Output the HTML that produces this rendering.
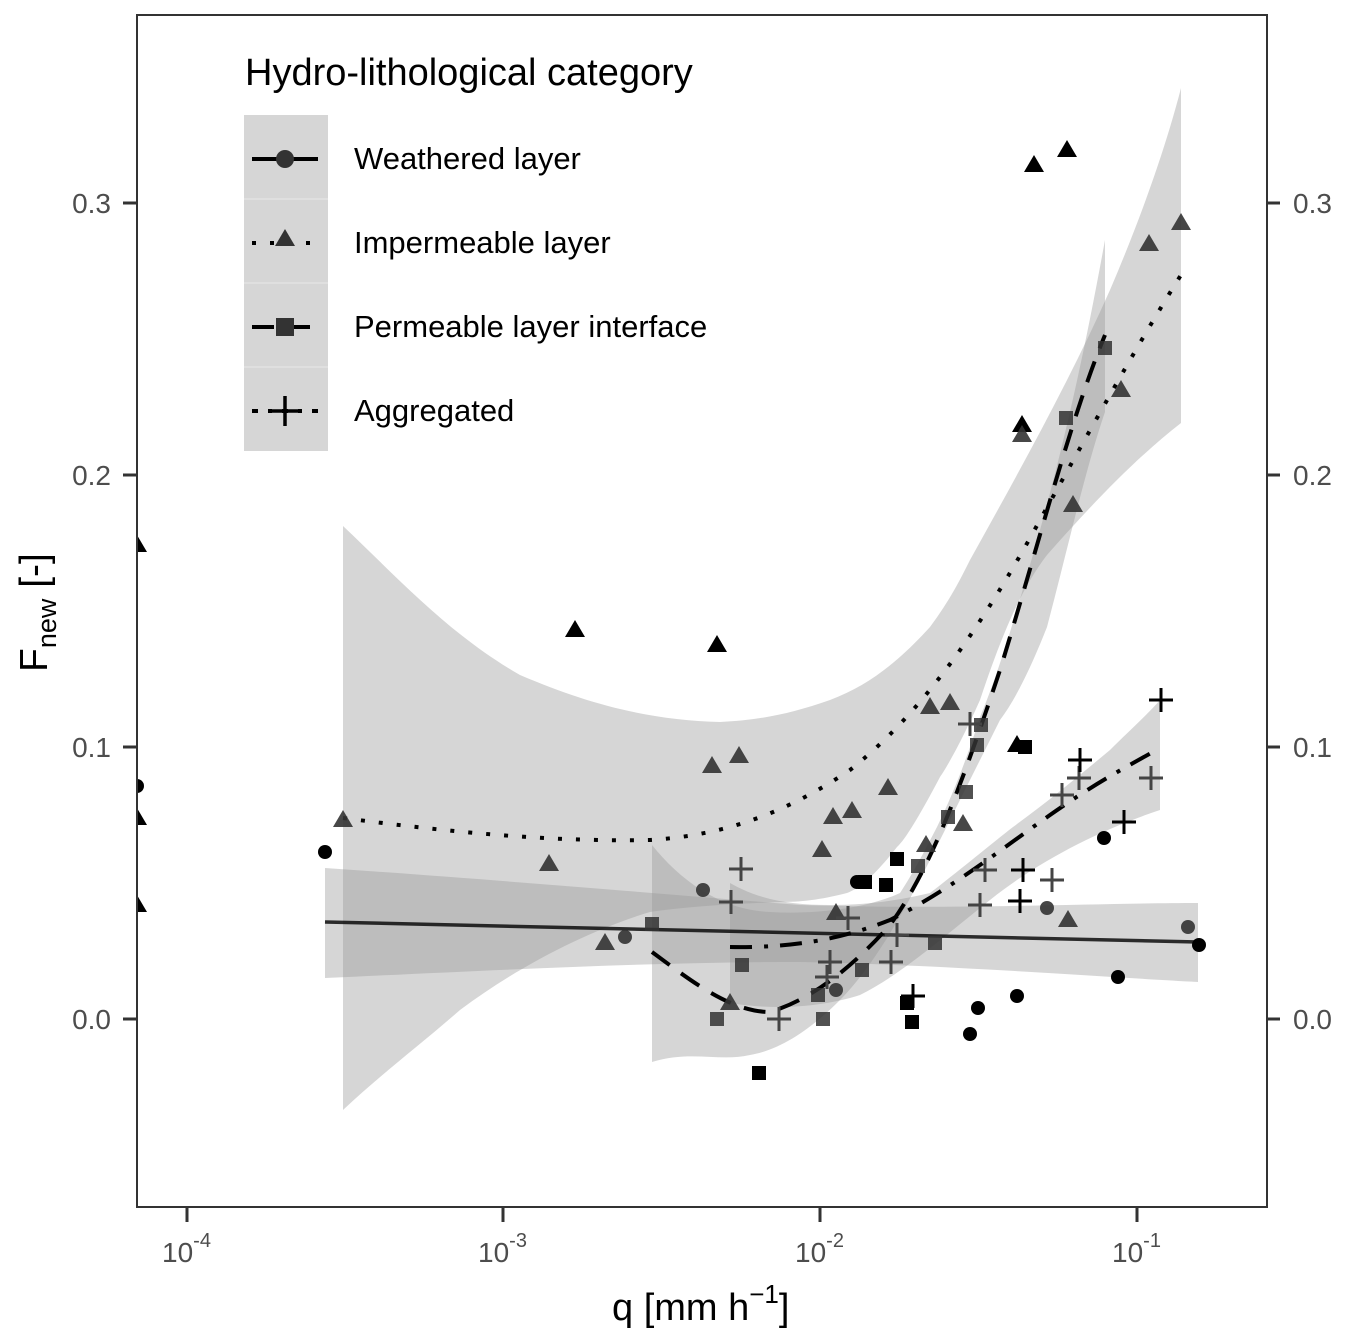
<!DOCTYPE html>
<html><head><meta charset="utf-8"><style>
body{margin:0;background:#fff}
svg{display:block}
text{font-family:"Liberation Sans",Arial,sans-serif}
</style></head><body>
<svg width="1348" height="1342" viewBox="0 0 1348 1342" xmlns="http://www.w3.org/2000/svg">
<rect width="1348" height="1342" fill="#fff"/>
<defs>
<clipPath id="pc"><rect x="137" y="15" width="1130" height="1192"/></clipPath>
</defs>
<g clip-path="url(#pc)">
<g fill="#999" fill-opacity="0.4">
<!-- impermeable ribbon -->
<path d="M343,526 C400,580 450,635 520,675 C590,705 650,720 720,722 C760,720 790,714 830,700 C870,685 900,660 930,627 C950,600 960,580 970,560 C1020,470 1070,380 1110,290 C1140,220 1165,150 1181,88 L1181,423 C1140,455 1100,495 1047,555 C1020,590 1000,640 980,700 C960,745 945,770 940,777 C920,815 905,840 897,847 C875,875 860,888 847,893 C820,900 800,902 780,902 C740,904 700,905 650,912 C590,930 520,965 460,1010 C420,1045 380,1075 343,1110 Z"/>
<!-- weathered ribbon -->
<path d="M325,868 C500,880 650,893 800,905 C950,910 1100,903 1198,903 L1198,982 C1100,977 950,965 800,962 C650,962 500,970 325,978 Z"/>
<!-- permeable ribbon -->
<path d="M652,845 C680,880 720,910 770,912 C820,915 870,907 900,893 C915,870 925,850 937,827 C955,790 968,755 980,717 C1000,670 1020,600 1040,530 C1065,440 1085,350 1105,240 L1105,412 C1085,470 1065,560 1047,627 C1030,670 1015,700 1000,720 C975,770 955,810 930,860 C900,920 870,970 840,1000 C810,1030 780,1050 750,1055 C720,1062 690,1050 652,1062 Z"/>
<!-- aggregated ribbon -->
<path d="M730,883 C760,900 790,905 830,905 C870,905 900,900 930,893 C960,870 990,845 1013,827 C1050,800 1080,775 1110,750 C1130,730 1150,712 1160,700 L1160,810 C1100,830 1040,860 990,900 C940,940 900,975 860,995 C820,1008 770,1010 730,1003 Z"/>
</g>
<!-- lines -->
<path d="M325,922 L1198,942" stroke="#000" stroke-width="3.5" fill="none" opacity="0.8"/>
<path d="M343,818 C450,832 550,842 650,840 C730,835 790,810 850,770 C920,715 980,630 1040,520 C1090,430 1140,340 1181,275" stroke="#000" stroke-width="4" fill="none" stroke-dasharray="4,14"/>
<path d="M652,952 C690,980 730,1012 770,1012 C810,1000 850,970 890,925 C930,870 960,790 1000,670 C1040,540 1070,420 1105,335" stroke="#000" stroke-width="4" fill="none" stroke-dasharray="22,14"/>
<path d="M730,947 C790,948 840,940 890,920 C950,890 1000,850 1050,815 C1100,780 1130,765 1160,748" stroke="#000" stroke-width="4" fill="none" stroke-dasharray="22,12,4,12"/>
<!-- points: triangles -->
<g fill="#000">
<path d="M137,535 l10,17 h-20z M137,808 l10,17 h-20z M137,895 l10,17 h-20z M575,620 l10,17 h-20z M717,635 l10,17 h-20z M1034,155 l10,17 h-20z M1067,140 l10,17 h-20z M1022,415 l10,17 h-20z M1017,735 l10,17 h-20z"/>
</g>
<g fill="#333" fill-opacity="0.9">
<path d="M343,810 l10,17 h-20z M549,854 l10,17 h-20z M605,933 l10,17 h-20z M712,756 l10,17 h-20z M739,746 l10,17 h-20z M822,840 l10,17 h-20z M833,807 l10,17 h-20z M852,801 l10,17 h-20z M888,778 l10,17 h-20z M930,697 l10,17 h-20z M950,693 l10,17 h-20z M926,835 l10,17 h-20z M963,814 l10,17 h-20z M1149,234 l10,17 h-20z M1181,213 l10,17 h-20z M1121,380 l10,17 h-20z M1068,910 l10,17 h-20z M730,993 l10,17 h-20z M836,903 l10,17 h-20z M1073,495 l10,17 h-20z M1022,425 l10,17 h-20z"/>
</g>
<!-- circles -->
<g fill="#000">
<circle cx="137" cy="786" r="7"/><circle cx="325" cy="852" r="7"/><circle cx="857" cy="882" r="7"/><circle cx="865" cy="882" r="7"/><circle cx="978" cy="1008" r="7"/><circle cx="970" cy="1034" r="7"/><circle cx="1017" cy="996" r="7"/><circle cx="1104" cy="838" r="7"/><circle cx="1118" cy="977" r="7"/><circle cx="1199" cy="945" r="7"/>
</g>
<g fill="#333" fill-opacity="0.9">
<circle cx="625" cy="937" r="7"/><circle cx="703" cy="890" r="7"/><circle cx="836" cy="990" r="7"/><circle cx="1047" cy="908" r="7"/><circle cx="1188" cy="927" r="7"/>
</g>
<!-- squares -->
<g fill="#000">
<rect x="890" y="852" width="14" height="14"/><rect x="1018" y="740" width="14" height="14"/><rect x="900" y="996" width="14" height="14"/><rect x="905" y="1015" width="14" height="14"/><rect x="752" y="1066" width="14" height="14"/><rect x="879" y="878" width="14" height="14"/><rect x="858" y="875" width="14" height="14"/>
</g>
<g fill="#333" fill-opacity="0.85">
<rect x="645" y="917" width="14" height="14"/><rect x="710" y="1012" width="14" height="14"/><rect x="735" y="958" width="14" height="14"/><rect x="811" y="988" width="14" height="14"/><rect x="816" y="1012" width="14" height="14"/><rect x="855" y="963" width="14" height="14"/><rect x="911" y="859" width="14" height="14"/><rect x="928" y="936" width="14" height="14"/><rect x="941" y="810" width="14" height="14"/><rect x="959" y="785" width="14" height="14"/><rect x="970" y="738" width="14" height="14"/><rect x="974" y="718" width="14" height="14"/><rect x="1059" y="411" width="14" height="14"/><rect x="1098" y="341" width="14" height="14"/>
</g>
<!-- pluses -->
<g stroke="#444" stroke-width="3" fill="none">
<path d="M741,857v24M729,869h24 M731,890v24M719,902h24 M830,950v24M818,962h24 M827,965v24M815,977h24 M848,906v24M836,918h24 M897,923v24M885,935h24 M891,950v24M879,962h24 M980,893v24M968,905h24 M985,858v24M973,870h24 M1062,783v24M1050,795h24 M1079,766v24M1067,778h24 M1151,766v24M1139,778h24 M1052,868v24M1040,880h24 M779,1007v24M767,1019h24 M970,712v24M958,724h24"/>
</g>
<g stroke="#000" stroke-width="3" fill="none">
<path d="M913,984v24M901,996h24 M1020,889v24M1008,901h24 M1080,748v24M1068,760h24 M1124,810v24M1112,822h24 M1161,688v24M1149,700h24 M1023,858v24M1011,870h24"/>
</g>
</g>
<!-- panel border -->
<rect x="137" y="15" width="1130" height="1192" fill="none" stroke="#333" stroke-width="2"/>
<!-- ticks -->
<g stroke="#333" stroke-width="3">
<path d="M123,203h14M123,475h14M123,747h14M123,1019h14"/>
<path d="M1268,203h12M1268,475h12M1268,747h12M1268,1019h12"/>
<path d="M187,1208v14M503,1208v14M820,1208v14M1137,1208v14"/>
</g>
<g fill="#4d4d4d" font-size="28">
<text x="111" y="213" text-anchor="end">0.3</text>
<text x="111" y="485" text-anchor="end">0.2</text>
<text x="111" y="757" text-anchor="end">0.1</text>
<text x="111" y="1029" text-anchor="end">0.0</text>
<text x="1293" y="213">0.3</text>
<text x="1293" y="485">0.2</text>
<text x="1293" y="757">0.1</text>
<text x="1293" y="1029">0.0</text>
<text x="162" y="1262">10<tspan dy="-15" font-size="20">-4</tspan></text>
<text x="478" y="1262">10<tspan dy="-15" font-size="20">-3</tspan></text>
<text x="795" y="1262">10<tspan dy="-15" font-size="20">-2</tspan></text>
<text x="1112" y="1262">10<tspan dy="-15" font-size="20">-1</tspan></text>
</g>
<text x="612" y="1320" font-size="38" fill="#000">q [mm h<tspan dy="-17" font-size="26">−1</tspan><tspan dy="17">]</tspan></text>
<text transform="translate(47,672) rotate(-90)" font-size="39" fill="#000">F<tspan dy="9" font-size="27">new</tspan><tspan dy="-9"> [-]</tspan></text>
<!-- legend -->
<text x="245" y="85" font-size="38" fill="#000">Hydro-lithological category</text>
<rect x="244" y="115" width="84" height="336" fill="#d6d6d6"/>
<path d="M244,199h84M244,283h84M244,367h84" stroke="#e8e8e8" stroke-width="1"/>
<path d="M252,159h66" stroke="#000" stroke-width="4"/>
<circle cx="285" cy="159" r="9" fill="#333"/>
<path d="M252,243h66" stroke="#000" stroke-width="4" stroke-dasharray="4,14"/>
<path d="M285,229 l10,17 h-20z" fill="#333"/>
<path d="M252,327h66" stroke="#000" stroke-width="4" stroke-dasharray="22,14"/>
<rect x="276" y="318" width="18" height="18" fill="#333"/>
<path d="M252,411h66" stroke="#000" stroke-width="4" stroke-dasharray="6,10,4,10"/>
<path d="M285,396v30M271,411h28" stroke="#000" stroke-width="3.5"/>
<g font-size="31" fill="#000">
<text x="354" y="169">Weathered layer</text>
<text x="354" y="253">Impermeable layer</text>
<text x="354" y="337">Permeable layer interface</text>
<text x="354" y="421">Aggregated</text>
</g>
</svg>
</body></html>
